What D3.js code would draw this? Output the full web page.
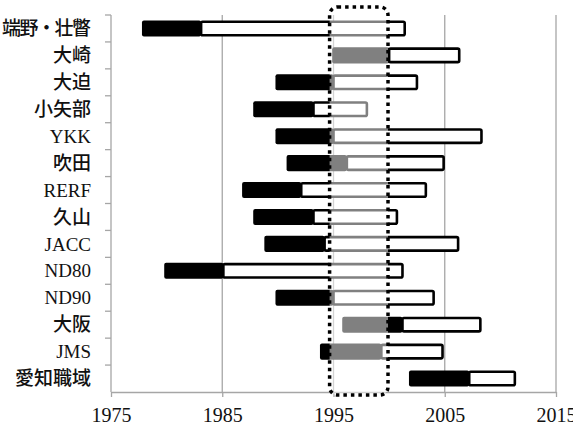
<!DOCTYPE html>
<html>
<head>
<meta charset="utf-8">
<script src="https://cdn.jsdelivr.net/npm/d3@7"></script>
<style>
	body { margin: 0; background: #fff; }
	svg { display: block; }
</style>
</head>
<body>
<div id="chart"></div>
<script>
	'use strict';

	// cohort names, top to bottom
	var cohorts = ['端野・壮瞥', '大崎', '大迫', '小矢部', 'YKK', '吹田', 'RERF', '久山', 'JACC', 'ND80', 'ND90', '大阪', 'JMS', '愛知職域'];
	// baseline period start / end (solid part)
	var baselineStart = [1977.9, 1995.0, 1989.9, 1987.9, 1989.9, 1990.9, 1986.9, 1987.9, 1988.9, 1979.9, 1989.9, 1995.9, 1993.9, 2001.9];
	var baselineEnd = [1983.1, 2000.0, 1995.0, 1993.2, 1995.0, 1996.2, 1992.1, 1993.2, 1994.2, 1985.1, 1995.0, 2001.2, 1999.3, 2007.2];
	// end of follow-up (hollow part)
	var followEnd = [2001.4, 2006.3, 2002.5, 1998.0, 2008.3, 2004.9, 2003.3, 2000.7, 2006.2, 2001.2, 2004.0, 2008.2, 2004.8, 2011.3];
	// x axis ticks
	var yearTicks = [1975, 1985, 1995, 2005, 2015];
	// highlighted window (dotted box)
	var windowYears = [1994.65, 1999.9];

	var width = 573, height = 435;
	var margin = { top: 15, right: 17, bottom: 43, left: 111 };
	var innerW = width - margin.left - margin.right;
	var innerH = height - margin.top - margin.bottom;
	var labelGap = 20, labelMax = margin.left - labelGap - 2; // room for the row labels

	var x = d3.scaleLinear().domain([1975, 2015]).range([0, innerW]);
	var y = d3.scaleBand().domain(cohorts).range([0, innerH]).paddingInner(0.5).paddingOuter(0.25);
	// band scale without padding, used for the tick positions
	var yRows = d3.scaleBand().domain(cohorts).range([0, innerH]);

	var isLatin = function (d) { return /^[\x00-\x7f]+$/.test(d); };

	var svg = d3.select('#chart').append('svg')
		.attr('width', width)
		.attr('height', height);

	var g = svg.append('g')
		.attr('transform', 'translate(' + margin.left + ',' + margin.top + ')');

	// vertical grid lines
	g.append('g').selectAll('line')
		.data(yearTicks.slice(1))
		.enter().append('line')
		.attr('x1', function (d) { return x(d); })
		.attr('x2', function (d) { return x(d); })
		.attr('y1', 0)
		.attr('y2', innerH)
		.attr('stroke', '#a6a6a6')
		.attr('stroke-width', 1.3);

	// x axis
	var xAxis = g.append('g')
		.attr('transform', 'translate(0,' + innerH + ')')
		.call(d3.axisBottom(x).tickValues(yearTicks).tickFormat(d3.format('d')).tickSize(5).tickSizeOuter(0));
	xAxis.select('.domain').attr('stroke', '#a6a6a6').attr('stroke-width', 1.3);
	xAxis.selectAll('.tick line').attr('stroke', '#a6a6a6').attr('stroke-width', 1.3);
	xAxis.selectAll('.tick text')
		.attr('dy', 0)
		.attr('y', 30)
		.style('font-family', '"Liberation Serif", serif')
		.style('font-size', '20px')
		.style('fill', '#111');

	// y axis: tick marks sit on the row boundaries
	g.append('line')
		.attr('x1', 0).attr('x2', 0)
		.attr('y1', 0).attr('y2', innerH)
		.attr('stroke', '#a6a6a6')
		.attr('stroke-width', 1.3);

	g.append('g').selectAll('line')
		.data(cohorts)
		.enter().append('line')
		.attr('x1', -6).attr('x2', 0)
		.attr('y1', function (d) { return yRows(d); })
		.attr('y2', function (d) { return yRows(d); })
		.attr('stroke', '#a6a6a6')
		.attr('stroke-width', 1.3);

	// row labels: latin names in serif, japanese ones in sans
	g.append('g').selectAll('text')
		.data(cohorts)
		.enter().append('text')
		.attr('x', -labelGap)
		.attr('y', function (d) { return yRows(d) + yRows.bandwidth() / 2; })
		.attr('dy', '0.35em')
		.attr('text-anchor', 'end')
		.style('font-family', function (d) {
			return isLatin(d) ? '"Liberation Serif", serif' : '"Noto Sans CJK JP", sans-serif';
		})
		.style('font-size', '19px')
		.style('font-weight', function (d) { return isLatin(d) ? 400 : 500; })
		.style('fill', '#111')
		.text(function (d) { return d; })
		.each(function () {
			// squeeze the long label so it stays inside the page
			if (this.getComputedTextLength() > labelMax) {
				d3.select(this).attr('textLength', labelMax).attr('lengthAdjust', 'spacing');
			}
		});

	// the bars: solid baseline part then hollow follow-up part
	var bars = g.append('g').selectAll('g')
		.data(cohorts)
		.enter().append('g');

	bars.append('rect')
		.attr('x', function (d, i) { return x(baselineEnd[i]); })
		.attr('y', function (d) { return y(d); })
		.attr('width', function (d, i) { return x(followEnd[i]) - x(baselineEnd[i]); })
		.attr('height', y.bandwidth())
		.attr('rx', 1.5)
		.attr('fill', '#fff')
		.attr('stroke', '#000')
		.attr('stroke-width', 2.6);

	bars.append('rect')
		.attr('x', function (d, i) { return x(baselineStart[i]) - 1.3; })
		.attr('y', function (d) { return y(d) - 1.3; })
		.attr('width', function (d, i) { return x(baselineEnd[i]) - x(baselineStart[i]) + 1.3; })
		.attr('height', y.bandwidth() + 2.6)
		.attr('rx', 2)
		.attr('fill', '#000');

	// highlighted window: half transparent white veil with a dotted border
	g.append('rect')
		.attr('x', x(windowYears[0]))
		.attr('y', -8)
		.attr('width', x(windowYears[1]) - x(windowYears[0]))
		.attr('height', innerH + 11)
		.attr('rx', 8)
		.attr('fill', '#fff')
		.attr('fill-opacity', 0.5)
		.attr('stroke', '#000')
		.attr('stroke-width', 3.5)
		.attr('stroke-dasharray', '3.5 4');
</script>
</body>
</html>
